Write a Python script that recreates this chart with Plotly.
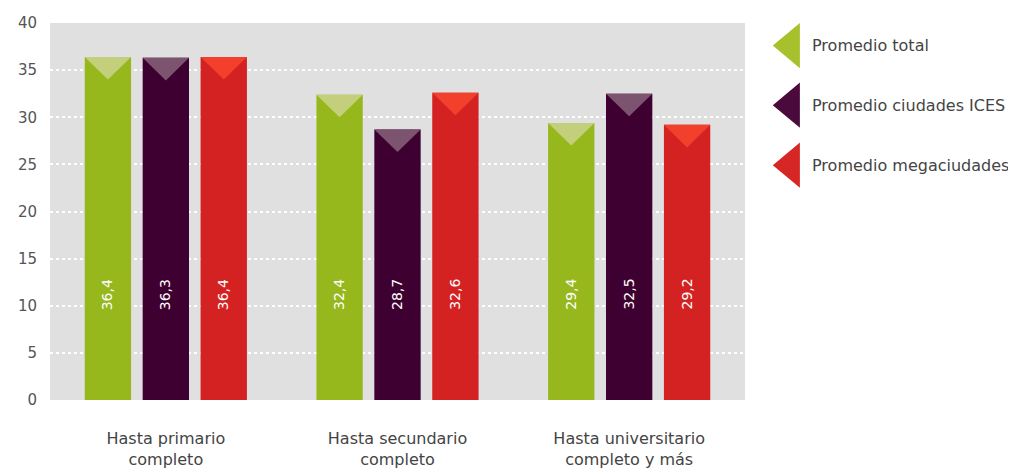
import plotly.graph_objects as go

categories = ["Hasta primario<br>completo", "Hasta secundario<br>completo", "Hasta universitario<br>completo y más"]
series_names = ["Promedio total", "Promedio ciudades ICES", "Promedio megaciudades"]
total = [36.4, 32.4, 29.4]
ices = [36.3, 28.7, 32.5]
mega = [36.4, 32.6, 29.2]
y_ticks = [0, 5, 10, 15, 20, 25, 30, 35, 40]

series_values = [total, ices, mega]
bar_colors = ["#96b81c", "#3d0030", "#d42222"]
tri_colors = ["#c4cf7c", "#7d5470", "#f2402c"]
legend_colors = ["#a6c12c", "#4a0a3c", "#d62626"]

offsets = [-0.25, 0.0, 0.25]
bar_w = 0.2
tri_h = 2.4
label_y = 11.2
FONT = "DejaVu Sans"

fig = go.Figure()
shapes = []
annotations = []
for s, (name, vals) in enumerate(zip(series_names, series_values)):
    xs = [i + offsets[s] for i in range(len(categories))]
    fig.add_trace(go.Bar(x=xs, y=vals, width=bar_w, name=name,
                         marker=dict(color=bar_colors[s], line=dict(width=0)),
                         showlegend=False, hoverinfo="y"))
    for x, v in zip(xs, vals):
        shapes.append(dict(type="path", xref="x", yref="y",
                           path=f"M {x-bar_w/2},{v} L {x+bar_w/2},{v} L {x},{v-tri_h} Z",
                           fillcolor=tri_colors[s], line=dict(width=0), layer="above"))
        annotations.append(dict(x=x, y=label_y, xref="x", yref="y",
                                text=f"{v:.1f}".replace(".", ","), textangle=-90,
                                showarrow=False, font=dict(color="white", size=14, family=FONT)))

# custom legend (tall left-pointing triangles)
leg_centers = [0.940, 0.782, 0.623]
tri_half = 0.060
for s, name in enumerate(series_names):
    yc = leg_centers[s]
    shapes.append(dict(type="path", xref="paper", yref="paper",
                       path=f"M 1.079,{yc+tri_half} L 1.079,{yc-tri_half} L 1.040,{yc} Z",
                       fillcolor=legend_colors[s], line=dict(width=0)))
    annotations.append(dict(x=1.0935, y=yc, xref="paper", yref="paper", xanchor="left",
                            yanchor="middle", text=name, showarrow=False,
                            font=dict(color="#444444", size=16, family=FONT)))

fig.update_layout(
    width=1016, height=470,
    margin=dict(l=42, r=279, t=15, b=78, autoexpand=False),
    paper_bgcolor="white", plot_bgcolor="#e0e0e0",
    barmode="overlay",
    shapes=shapes, annotations=annotations,
    font=dict(family=FONT, color="#444444", size=16),
    xaxis=dict(range=[-0.5, 2.5], tickvals=list(range(len(categories))), ticktext=categories,
               showgrid=False, zeroline=False, showline=False, ticks="", automargin=False,
               ticklabelstandoff=27, tickfont=dict(size=16, color="#444444")),
    yaxis=dict(range=[0, 40], tickvals=y_ticks, showgrid=True, gridcolor="white",
               griddash="dot", gridwidth=2, zeroline=False, showline=False, ticks="",
               automargin=False,
               ticklabelstandoff=12, tickfont=dict(size=15, color="#555555")),
)
fig.write_html("out.html")
